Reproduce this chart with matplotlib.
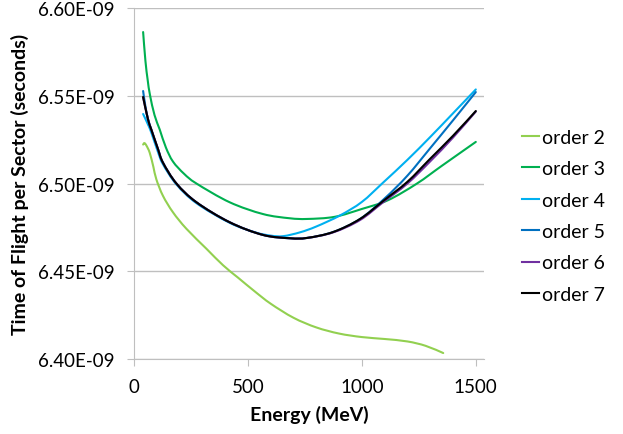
import numpy as np
import matplotlib
matplotlib.use('Agg')
from matplotlib import pyplot as plt
from matplotlib.path import Path
from matplotlib.patches import PathPatch
from matplotlib.lines import Line2D
from matplotlib.ticker import FuncFormatter

# time of flight per sector vs energy, polynomial fits of different order
E2 = [40, 46, 55, 69, 85, 98, 127, 171, 230, 318, 391, 457, 530, 600, 700, 800, 900, 1000, 1100, 1200, 1280, 1357]
T2 = [6.5222, 6.5230, 6.5215, 6.5175, 6.5095, 6.5024, 6.4930, 6.4836, 6.4742, 6.4628, 6.4534, 6.4463,
      6.4385, 6.4315, 6.4235, 6.4180, 6.4145, 6.4125, 6.4114, 6.4100, 6.4075, 6.4034]

E3 = [40, 50, 60, 70, 90, 113, 140, 171, 220, 274, 420, 566, 683, 760, 880, 1000, 1115, 1242, 1350, 1500]
T3 = [6.5863, 6.5700, 6.5590, 6.5505, 6.5390, 6.5307, 6.5205, 6.5125, 6.5055, 6.5000, 6.4893, 6.4826,
      6.4802, 6.4798, 6.4810, 6.4855, 6.4905, 6.5000, 6.5100, 6.5237]

E4 = [40, 60, 76, 105, 127, 186, 274, 420, 531, 600, 655, 729, 800, 904, 1000, 1093, 1200, 1300, 1400, 1500]
T4 = [6.5396, 6.5340, 6.5290, 6.5180, 6.5110, 6.4995, 6.4888, 6.4776, 6.4722, 6.4703, 6.4700, 6.4722,
      6.4755, 6.4818, 6.4895, 6.5005, 6.5135, 6.5265, 6.5400, 6.5536]

E5 = [40, 50, 61, 76, 105, 127, 186, 274, 420, 566, 685, 760, 875, 992, 1100, 1200, 1299, 1400, 1500]
T5 = [6.5527, 6.5440, 6.5370, 6.5307, 6.5197, 6.5119, 6.5000, 6.4893, 6.4779, 6.4707, 6.4688, 6.4690,
      6.4724, 6.4798, 6.4915, 6.5045, 6.5200, 6.5360, 6.5521]

E6 = [40, 61, 76, 105, 127, 186, 274, 420, 566, 685, 760, 875, 992, 1093, 1200, 1299, 1400, 1500]
T6 = [6.5490, 6.5367, 6.5307, 6.5197, 6.5119, 6.5000, 6.4893, 6.4779, 6.4707, 6.4688, 6.4690, 6.4722,
      6.4792, 6.4893, 6.5000, 6.5125, 6.5262, 6.5410]

E7 = [40, 61, 76, 105, 127, 186, 274, 420, 566, 685, 760, 875, 992, 1093, 1200, 1299, 1400, 1500]
T7 = [6.5493, 6.5367, 6.5307, 6.5197, 6.5119, 6.5000, 6.4893, 6.4779, 6.4707, 6.4688, 6.4690, 6.4724,
      6.4798, 6.4900, 6.5010, 6.5140, 6.5272, 6.5413]

series = [
    ('order 2', E2, T2, '#92D050'),
    ('order 3', E3, T3, '#00B050'),
    ('order 4', E4, T4, '#00B0F0'),
    ('order 5', E5, T5, '#0070C0'),
    ('order 6', E6, T6, '#7030A0'),
    ('order 7', E7, T7, '#000000'),
]


def smooth_path(x, y):
    """Catmull-Rom style bezier through the points (like a smoothed line)."""
    p = np.column_stack([x, y]).astype(float)
    n = len(p)
    verts = [p[0]]
    codes = [Path.MOVETO]
    for i in range(n - 1):
        p0 = p[max(i - 1, 0)]
        p1 = p[i]
        p2 = p[i + 1]
        p3 = p[min(i + 2, n - 1)]
        c1 = p1 + (p2 - p0) / 6.0
        c2 = p2 - (p3 - p1) / 6.0
        verts += [c1, c2, p2]
        codes += [Path.CURVE4] * 3
    return Path(verts, codes)


plt.rcParams['font.family'] = ['Lato', 'DejaVu Sans']

fig = plt.figure(figsize=(6.23, 4.35), dpi=100)
ax = fig.add_axes([0.2151, 0.1724, 0.5618, 0.8069])

handles = []
for name, e, t, c in series:
    path = smooth_path(e, np.array(t) * 1e-9)
    ax.add_patch(PathPatch(path, facecolor='none', edgecolor=c, lw=1.5, capstyle='round'))
    handles.append(Line2D([], [], color=c, lw=1.5, label=name))

ax.set_xlim(0, 1536)
ax.set_ylim(6.40e-9, 6.60e-9)
ax.set_xticks([0, 500, 1000, 1500])
ax.set_yticks([6.40e-9, 6.45e-9, 6.50e-9, 6.55e-9, 6.60e-9])
ax.yaxis.set_major_formatter(FuncFormatter(lambda v, p: '%.2E' % v))
ax.grid(axis='y', color='#BFBFBF', lw=1)
ax.set_axisbelow(True)
for s in ['top', 'right']:
    ax.spines[s].set_visible(False)
for s in ['left', 'bottom']:
    ax.spines[s].set_color('#BFBFBF')
ax.tick_params(colors='#BFBFBF', labelcolor='black', labelsize=13.5, length=5, direction='out')
ax.tick_params(axis='y', pad=9)
ax.tick_params(axis='x', pad=9)
ax.set_xlabel('Energy (MeV)', fontsize=14, fontweight='bold', labelpad=7)
ax.set_ylabel('Time of Flight per Sector (seconds)', fontsize=14, fontweight='bold', labelpad=6)

fig.legend(handles=handles, loc='upper left', bbox_to_anchor=(0.822, 0.724), frameon=False, fontsize=14,
           handlelength=0.9, handletextpad=0.15, labelspacing=0.74, borderpad=0)

fig.savefig('out.png', dpi=100)
